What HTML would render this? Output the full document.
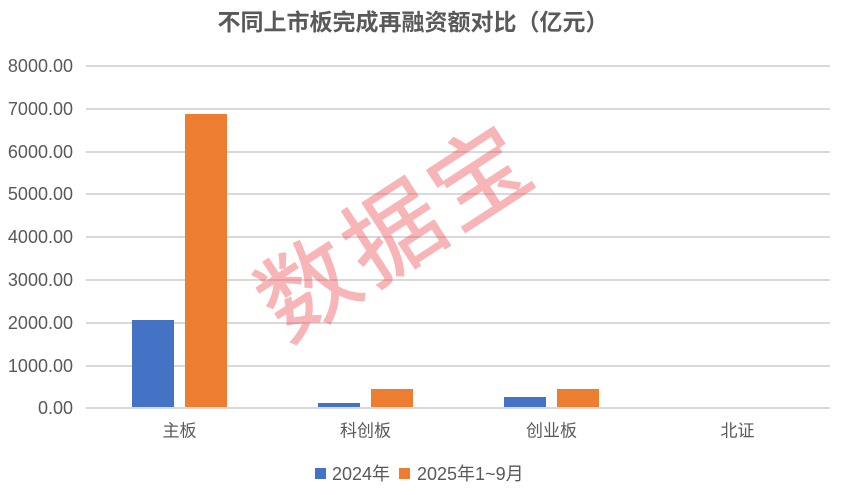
<!DOCTYPE html>
<html>
<head>
<meta charset="utf-8">
<style>
html,body{margin:0;padding:0;background:#fff;}
svg{display:block;}
</style>
</head>
<body>
<svg width="843" height="495" viewBox="0 0 843 495" xmlns="http://www.w3.org/2000/svg">
<rect x="0" y="0" width="843" height="495" fill="#ffffff"/>
<!-- title -->
<text x="413" y="22" text-anchor="middle" dominant-baseline="central" font-family="'Liberation Sans','Noto Sans CJK SC',sans-serif" font-size="23" font-weight="bold" fill="#595959">不同上市板完成再融资额对比（亿元）</text>
<!-- gridlines -->
<g fill="#d9d9d9">
<rect x="86" y="65" width="744" height="2"/>
<rect x="86" y="108" width="744" height="2"/>
<rect x="86" y="151" width="744" height="2"/>
<rect x="86" y="193" width="744" height="2"/>
<rect x="86" y="236" width="744" height="2"/>
<rect x="86" y="279" width="744" height="2"/>
<rect x="86" y="322" width="744" height="2"/>
<rect x="86" y="365" width="744" height="2"/>
<rect x="86" y="407" width="744" height="2"/>
</g>
<!-- y labels -->
<g font-family="'Liberation Sans',sans-serif" font-size="18" fill="#595959" text-anchor="end" dominant-baseline="central">
<text x="73" y="66">8000.00</text>
<text x="73" y="109">7000.00</text>
<text x="73" y="152">6000.00</text>
<text x="73" y="194">5000.00</text>
<text x="73" y="237">4000.00</text>
<text x="73" y="280">3000.00</text>
<text x="73" y="323">2000.00</text>
<text x="73" y="366">1000.00</text>
<text x="73" y="408">0.00</text>
</g>
<!-- bars -->
<g>
<rect x="132" y="320" width="42" height="87" fill="#4472c4"/>
<rect x="185" y="114" width="42" height="293" fill="#ed7d31"/>
<rect x="318" y="403" width="42" height="4" fill="#4472c4"/>
<rect x="371" y="389" width="42" height="18" fill="#ed7d31"/>
<rect x="504" y="397" width="42" height="10" fill="#4472c4"/>
<rect x="557" y="389" width="42" height="18" fill="#ed7d31"/>
</g>
<!-- watermark -->
<g opacity="0.42">
<text x="392" y="225" text-anchor="middle" dominant-baseline="central" transform="rotate(-33 392 225)" font-family="'Noto Sans CJK SC',sans-serif" font-size="96" letter-spacing="6" fill="rgb(240,80,85)" stroke="rgb(240,80,85)" stroke-width="1.2" stroke-linejoin="round">数据宝</text>
</g>
<!-- category labels -->
<g font-family="'Liberation Sans','Noto Sans CJK SC',sans-serif" font-size="17" fill="#595959" text-anchor="middle" dominant-baseline="central">
<text x="179.5" y="431">主板</text>
<text x="365.5" y="431">科创板</text>
<text x="551.5" y="431">创业板</text>
<text x="737.5" y="431">北证</text>
</g>
<!-- legend -->
<rect x="315" y="468" width="11" height="11" fill="#4472c4"/>
<text x="332" y="474" dominant-baseline="central" font-family="'Liberation Sans','Noto Sans CJK SC',sans-serif" font-size="18" fill="#595959">2024年</text>
<rect x="399" y="468" width="11" height="11" fill="#ed7d31"/>
<text x="417" y="474" dominant-baseline="central" font-family="'Liberation Sans','Noto Sans CJK SC',sans-serif" font-size="18" fill="#595959">2025年1~9月</text>
</svg>
</body>
</html>
